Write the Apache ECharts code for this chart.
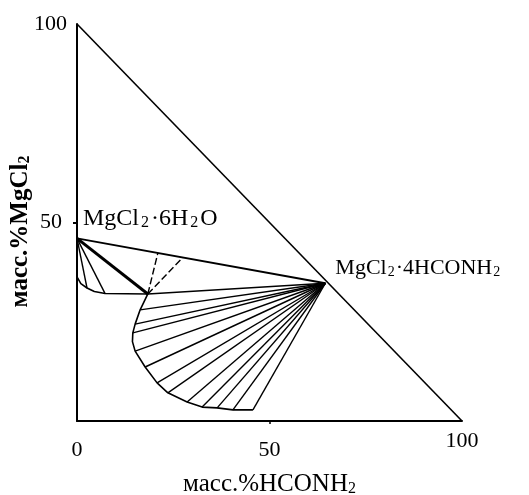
<!DOCTYPE html>
<html>
<head>
<meta charset="utf-8">
<script src="https://cdn.jsdelivr.net/npm/echarts@6/dist/echarts.min.js"></script>
<style>
  html, body { margin: 0; padding: 0; background: #fff; }
  #chart { width: 529px; height: 495px; }
</style>
</head>
<body>
<div id="chart"></div>
<script>
// MgCl2 – HCONH2 – H2O system, mass % (x: HCONH2, y: MgCl2)
const xTicks = [0, 50, 100];
const yTicks = [50, 100];

// solid phases
const hexahydrate = [0, 46.0];        // MgCl2·6H2O
const tetraformamide = [64.5, 34.7];  // MgCl2·4HCONH2
const eutonic = [18.4, 32.0];

// solubility branch of MgCl2·6H2O
const branchHexa = [[0, 36.3], [1.0, 34.6], [2.6, 33.5], [4.5, 32.6], [7.3, 32.1], [18.4, 32.0]];
// liquid ends of tie lines to MgCl2·6H2O
const hexaTieEnds = [[2.6, 33.5], [7.3, 32.1]];

// solubility branch of MgCl2·4HCONH2
const branchTetra = [
  [18.4, 32.0], [16.4, 28.0], [15.1, 24.4], [14.5, 22.2], [14.4, 20.0], [15.1, 17.6],
  [17.7, 13.6], [20.8, 9.6], [23.6, 7.1], [28.6, 4.8], [32.5, 3.5], [36.4, 3.3],
  [40.5, 2.8], [45.7, 2.8]
];
// liquid ends of tie lines to MgCl2·4HCONH2
const tetraTieEnds = [
  [18.4, 32.0], [16.4, 28.0], [15.1, 24.4], [14.5, 22.2], [15.1, 17.6],
  [17.7, 13.6], [20.8, 9.6], [23.6, 7.1], [28.6, 4.8], [32.5, 3.5], [36.4, 3.3],
  [40.5, 2.8], [45.7, 2.8]
];
// rays from the eutonic point up to the MgCl2·6H2O – MgCl2·4HCONH2 join
const eutonicRays = [[21.0, 42.3], [27.5, 41.2]];

// triangle hypotenuse (water-free side)
const hypotenuse = [[0, 100], [100, 0]];

const SERIF = 'Liberation Serif';
const INK = '#000';

function seg(data, width, type) {
  return {
    type: 'line', data: data, symbol: 'none', silent: true,
    lineStyle: { color: INK, width: width, type: type || 'solid' },
    z: 3
  };
}

const series = [];
series.push(seg(hypotenuse, 1.6));
series.push(seg([hexahydrate, tetraformamide], 1.8));
series.push(seg(branchHexa, 1.6));
series.push(seg(branchTetra, 1.6));
series.push(seg([hexahydrate, eutonic], 3));
hexaTieEnds.forEach(p => series.push(seg([hexahydrate, p], 1.4)));
tetraTieEnds.forEach(p => series.push(seg([p, tetraformamide], 1.4)));
eutonicRays.forEach(p => series.push(seg([eutonic, p], 1.4, [7, 3])));

const hexaRich = {
  t: { fontFamily: SERIF, fontSize: 24, color: INK },
  s: { fontFamily: SERIF, fontSize: 16, color: INK, verticalAlign: 'bottom', padding: [0, 2, 0, 2] }
};
const tetraRich = {
  t: { fontFamily: SERIF, fontSize: 22, color: INK },
  s: { fontFamily: SERIF, fontSize: 14, color: INK, verticalAlign: 'bottom', padding: [0, 1, 0, 1] }
};

series.push({
  type: 'scatter', symbolSize: 0, silent: true, z: 5,
  itemStyle: { opacity: 1 },
  data: [
    { value: hexahydrate, label: { show: true, color: INK, position: 'right', distance: 0, offset: [6, -20],
      formatter: '{t|MgCl}{s|2}{t|·6H}{s|2}{t|O}', rich: hexaRich } },
    { value: tetraformamide, label: { show: true, color: INK, position: 'right', distance: 0, offset: [10, -15],
      formatter: '{t|MgCl}{s|2}{t|·4HCONH}{s|2}', rich: tetraRich } }
  ]
});

const chart = echarts.init(document.getElementById('chart'), null, { renderer: 'canvas' });
chart.setOption({
  backgroundColor: '#fff',
  animation: false,
  grid: { left: 77, top: 24, width: 385, height: 397, containLabel: false, outerBoundsMode: 'none' },
  xAxis: {
    type: 'value', min: 0, max: 100, interval: 50,
    axisLine: { show: true, lineStyle: { color: INK, width: 2 } },
    axisTick: { show: true, length: 3, customValues: [50], lineStyle: { color: INK, width: 1.5 } },
    splitLine: { show: false },
    axisLabel: {
      margin: 6, color: INK,
      formatter: v => xTicks.indexOf(v) < 0 ? '' : (v === 100 ? '{hi|' + v + '}' : '{lo|' + v + '}'),
      rich: {
        lo: { fontFamily: SERIF, fontSize: 22, color: INK, padding: [12, 0, 0, 0] },
        hi: { fontFamily: SERIF, fontSize: 22, color: INK, padding: [3, 0, 0, 0] }
      }
    },
    name: '{t|масс.%HCONH}{s|2}',
    nameLocation: 'middle', nameGap: 51, nameMoveOverlap: false,
    nameTextStyle: {
      rich: {
        t: { fontFamily: SERIF, fontSize: 25, color: INK },
        s: { fontFamily: SERIF, fontSize: 16, color: INK, verticalAlign: 'bottom' }
      }
    }
  },
  yAxis: {
    type: 'value', min: 0, max: 100, interval: 50,
    axisLine: { show: true, lineStyle: { color: INK, width: 2 } },
    axisTick: { show: true, length: 4, customValues: [50], lineStyle: { color: INK, width: 2 } },
    splitLine: { show: false },
    axisLabel: {
      margin: 10, color: INK,
      formatter: v => yTicks.indexOf(v) < 0 ? '' : (v === 50 ? '{m|' + v + '}' : '{h|' + v + '}'),
      rich: {
        m: { fontFamily: SERIF, fontSize: 22, color: INK, padding: [0, 5, 0, 0] },
        h: { fontFamily: SERIF, fontSize: 22, color: INK }
      }
    },
    name: '{t|масс.%MgCl}{s|2}',
    nameLocation: 'middle', nameGap: 44, nameRotate: 90, nameMoveOverlap: false,
    nameTextStyle: {
      padding: [0, 18, 0, 0],
      rich: {
        t: { fontFamily: SERIF, fontSize: 25, fontWeight: 'bold', color: INK },
        s: { fontFamily: SERIF, fontSize: 16, fontWeight: 'bold', color: INK, verticalAlign: 'bottom' }
      }
    }
  },
  series: series
});
</script>
</body>
</html>
